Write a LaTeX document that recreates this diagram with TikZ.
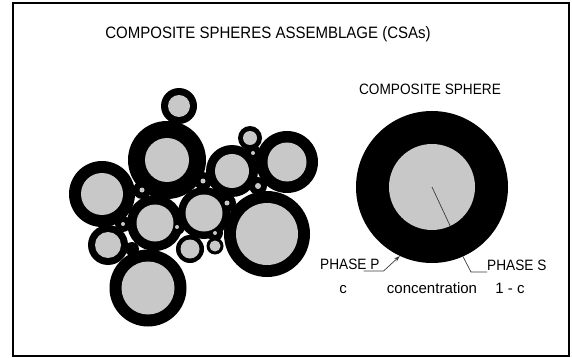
\documentclass[tikz,border=0pt]{standalone}
\usepackage{fontspec}
\setmainfont{Liberation Sans}
\newfontfamily\narrowfont[FakeStretch=0.91]{Liberation Sans}
\usetikzlibrary{arrows.meta}
\definecolor{coregray}{RGB}{200,200,200}
\definecolor{leadgray}{RGB}{60,60,60}
\tikzset{
  labeltext/.style={font=\narrowfont\fontsize{15}{17}\selectfont, inner sep=0pt},
  smalltext/.style={font=\fontsize{15}{17}\selectfont, inner sep=0pt},
  leader/.style={line width=0.7pt, leadgray},
}

\begin{document}
\begin{tikzpicture}[x=1pt,y=-1pt]
\useasboundingbox (0,0) rectangle (572,358);
\draw[line width=2pt] (13,3) rectangle (569,356);
\node[font=\narrowfont\fontsize{16.5}{19}\selectfont] (title) at (268,34) {COMPOSITE SPHERES ASSEMBLAGE (CSAs)};

% assemblage: black shells first, then the grey cores
\foreach \x/\y/\R in {179/106/18, 167/160/39, 102/194/33, 155/223/28, 108/245/20,
  148/288/38.5, 204/213/26, 190/249/14, 215/246/8.5, 232/171/26, 250/138/12,
  287/162/31, 267/234/43,
  203/181/9, 142/190/9, 123/224/8, 177/227/8, 227/203/9, 258/186/9, 253/153/8, 215/233/8, 132/249/7}
  \fill (\x,\y) circle (\R);
\foreach \x/\y/\r in {179/106/11, 167/160/22, 102/194/21, 155/223/18.5, 108/245/13,
  148/288/26.5, 204/213/18.5, 190/249/9.5, 215/246/5.5, 232/171/17, 250/138/7,
  287/162/19.5, 267/234/31,
  203/181/2.5, 142/190/2.5, 123/224/2, 177/227/2, 227/203/2.5, 258/186/3, 253/153/2, 215/233/2}
  \fill[coregray] (\x,\y) circle (\r);

% one composite sphere
\node[labeltext] (cslabel) at (430,89) {COMPOSITE SPHERE};
\node[circle, fill=black, inner sep=0pt, minimum size=152pt] (shell) at (432,187) {};
\node[circle, fill=coregray, inner sep=0pt, minimum size=86pt] (core) at (shell.center) {};
\draw[leader] (core.center) -- (core.-65);

\node[labeltext, anchor=base west] (phaseP) at (320,269) {PHASE P};
\node[labeltext, anchor=base west] (phaseS) at (487,270) {PHASE S};
\draw[leader, -{Stealth[length=6pt,width=4pt]}] ([xshift=-16pt,yshift=-2pt]phaseP.base east)
  -- ([xshift=4pt,yshift=-2pt]phaseP.base east) -- (shell.-115);
\draw[leader] (shell.-66) -- ([xshift=-16pt,yshift=-2pt]phaseS.base west)
  -- ([yshift=-2pt]phaseS.base west);

\node[smalltext, anchor=base] (cP) at (343,293) {c};
\node[smalltext, anchor=base] (conc) at (432,293) {concentration};
\node[smalltext, anchor=base] (cS) at (510,293) {1 - c};
\end{tikzpicture}
\end{document}
